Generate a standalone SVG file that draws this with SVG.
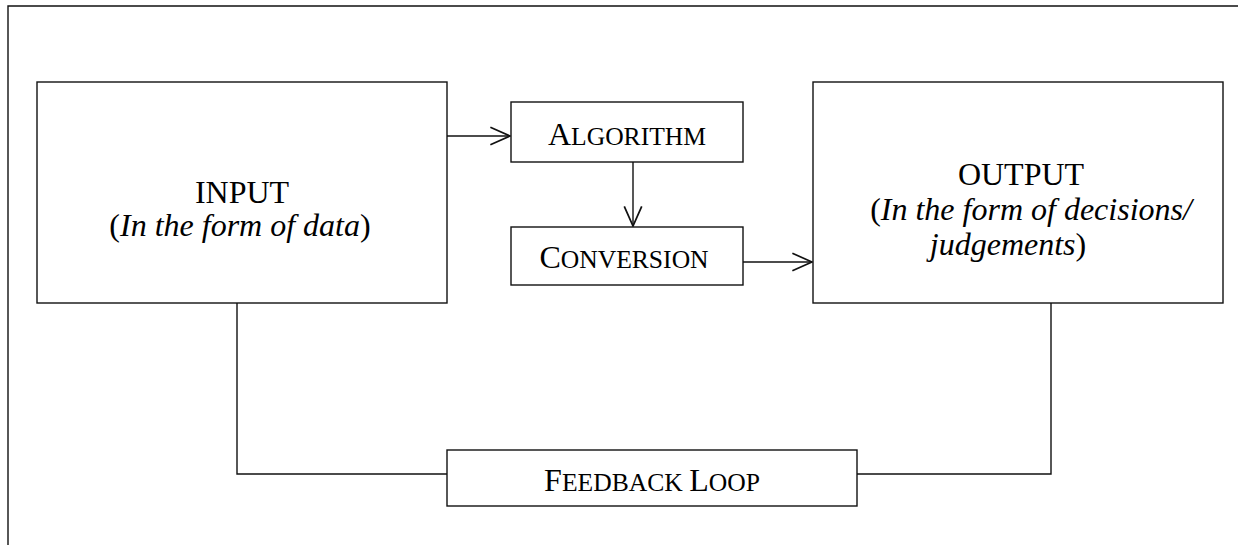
<svg xmlns="http://www.w3.org/2000/svg" width="1238" height="545" viewBox="0 0 1238 545">
<style>
.box{fill:#fff;stroke:#111;stroke-width:1.4}
.ln{fill:none;stroke:#111;stroke-width:1.4}
.t{font-family:"Liberation Serif","Times New Roman",serif;font-size:32px;fill:#000}
.sc{font-size:25.6px}
.i{font-style:italic}
</style>
<defs>
<marker id="arr" markerUnits="userSpaceOnUse" markerWidth="24" markerHeight="24" viewBox="-20 -10 22 20" refX="0" refY="0" orient="auto">
<path d="M-18,-8 L0,0 L-18,8" fill="none" stroke="#111" stroke-width="1.6"/>
</marker>
</defs>
<rect width="1238" height="545" fill="#fff"/>
<path class="ln" d="M8,545 V6 H1238"/>
<g id="connectors">
<line class="ln" x1="447" y1="136" x2="510" y2="136" marker-end="url(#arr)"/>
<line class="ln" x1="633" y1="162" x2="633" y2="226" marker-end="url(#arr)"/>
<line class="ln" x1="743" y1="262" x2="812" y2="262" marker-end="url(#arr)"/>
<path class="ln" d="M237,303 V474 H447"/>
<path class="ln" d="M857,474 H1051 V303"/>
</g>
<g id="input">
<rect class="box" x="37" y="82" width="410" height="221"/>
<text class="t" x="242" y="203" text-anchor="middle">INPUT</text>
<text class="t" x="240" y="236" text-anchor="middle">(<tspan class="i">In the form of data</tspan>)</text>
</g>
<g id="algorithm">
<rect class="box" x="511" y="102" width="232" height="60"/>
<text class="t" x="627" y="145" text-anchor="middle">A<tspan class="sc">LGORITHM</tspan></text>
</g>
<g id="conversion">
<rect class="box" x="511" y="227" width="232" height="58"/>
<text class="t" x="624" y="268" text-anchor="middle">C<tspan class="sc">ONVERSION</tspan></text>
</g>
<g id="output">
<rect class="box" x="813" y="82" width="410" height="221"/>
<text class="t" x="1021" y="185" text-anchor="middle">OUTPUT</text>
<text class="t" x="1031" y="220" text-anchor="middle">(<tspan class="i">In the form of decisions/</tspan></text>
<text class="t" x="1008" y="255" text-anchor="middle"><tspan class="i">judgements</tspan>)</text>
</g>
<g id="feedback">
<rect class="box" x="447" y="450" width="410" height="56"/>
<text class="t" x="652" y="491" text-anchor="middle">F<tspan class="sc">EEDBACK </tspan>L<tspan class="sc">OOP</tspan></text>
</g>
</svg>
